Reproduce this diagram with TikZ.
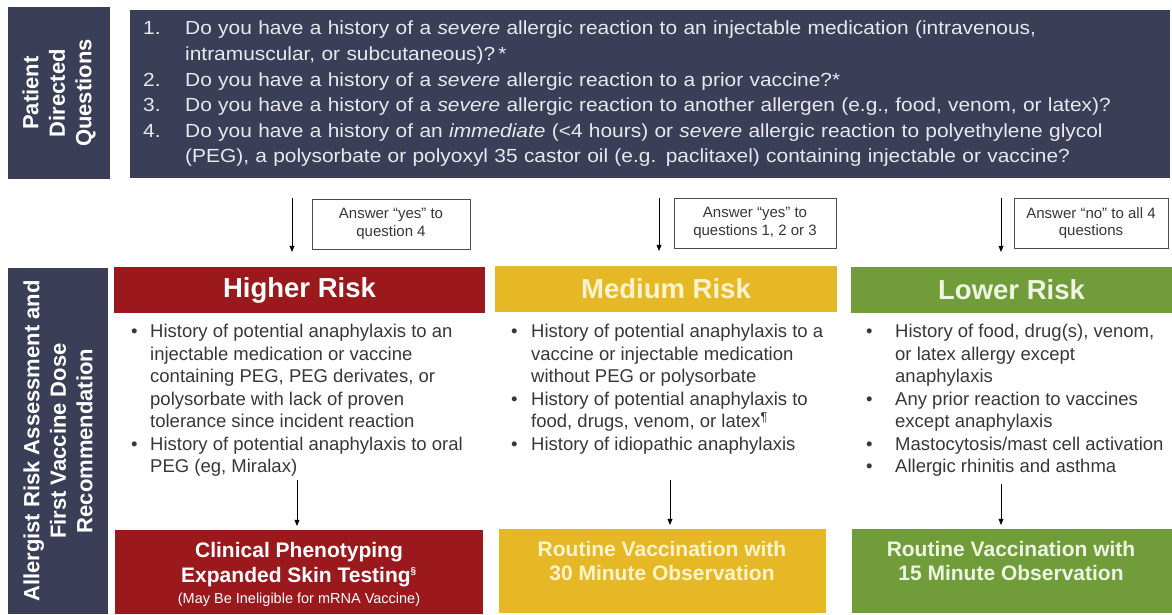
\documentclass[tikz,border=0pt]{standalone}
\usepackage{fontspec}
\setmainfont{Liberation Sans}
\newfontfamily\widefont[FakeStretch=1.1]{Liberation Sans}
\usetikzlibrary{positioning,arrows.meta}
\definecolor{navy}{RGB}{58,62,86}
\definecolor{qtext}{RGB}{232,232,238}
\definecolor{riskred}{RGB}{155,24,28}
\definecolor{riskyellow}{RGB}{231,184,38}
\definecolor{riskgreen}{RGB}{112,156,58}
\definecolor{paleyellow}{RGB}{253,244,205}
\definecolor{palegreen}{RGB}{238,245,226}
\definecolor{bodygray}{RGB}{55,55,55}
\newcommand{\bul}[1][19pt]{\makebox[#1][l]{\textbullet}}
\newcommand{\num}[1]{\makebox[42pt][l]{#1}}

\begin{document}
\begin{tikzpicture}[x=1pt,y=-1pt,
    side/.style={fill=navy, text=white, rotate=90, align=center, inner sep=0pt, font=\fontsize{22}{26.5}\selectfont\bfseries},
    qbox/.style={fill=navy, text=qtext, anchor=west, minimum height=168pt, inner xsep=13pt, text width=1014pt, align=left, font=\widefont\fontsize{19}{25.6}\selectfont},
    ans/.style={draw=black!70, fill=white, text=bodygray, align=center, inner sep=2pt, minimum height=50pt, font=\fontsize{15}{17.5}\selectfont},
    head/.style={minimum height=46pt, inner sep=0pt, font=\fontsize{27.5}{30}\selectfont\bfseries},
    blist/.style={anchor=north west, inner sep=0pt, align=left, text=bodygray, font=\fontsize{18.5}{22.5}\selectfont},
    res/.style={minimum height=84pt, inner sep=0pt},
    restext/.style={align=center, inner sep=0pt, font=\fontsize{21}{24}\selectfont\bfseries},
    arr/.style={-{Triangle[length=6pt,width=5pt]}, thin, black}]
  \useasboundingbox (0,0) rectangle (1172,614);

  \node[side, minimum width=172pt, minimum height=102pt] (pdq) at (59,93) {Patient\\Directed\\Questions};
  \node[side, minimum width=346pt, minimum height=100pt] (ara) at (58,441) {Allergist Risk Assessment and\\First Vaccine Dose\\Recommendation};

  \node[qbox] (qs) at (130,94) {\num{1.}Do you have a history of a \emph{severe} allergic reaction to an injectable medication (intravenous,\\
    \hspace*{42pt}intramuscular, or subcutaneous)?\,*\\
    \num{2.}Do you have a history of a \emph{severe} allergic reaction to a prior vaccine?*\\
    \num{3.}Do you have a history of a \emph{severe} allergic reaction to another allergen (e.g., food, venom, or latex)?\\
    \num{4.}Do you have a history of an \emph{immediate} (<4 hours) or \emph{severe} allergic reaction to polyethylene glycol\\
    \hspace*{42pt}(PEG), a polysorbate or polyoxyl 35 castor oil (e.g. paclitaxel) containing injectable or vaccine?};

  \node[ans, minimum width=158pt] (a1) at (391,224) {Answer “yes” to\\question 4};
  \node[ans, minimum width=162pt] (a2) at (755,223) {Answer “yes” to\\questions 1, 2 or 3};
  \node[ans, minimum width=154pt] (a3) at (1091,223) {Answer “no” to all 4\\questions};

  \node[head, fill=riskred, text=white, minimum width=371pt] (h1) at (299.5,290) {Higher Risk};
  \node[head, fill=riskyellow, text=paleyellow, minimum width=342pt] (h2) at (666,289) {Medium Risk};
  \node[head, fill=riskgreen, text=palegreen, minimum width=321pt] (h3) at (1011.5,290) {Lower Risk};

  \coordinate (t1) at (292,198);
  \coordinate (t2) at (659,198);
  \coordinate (t3) at (1001,198);
  \draw[arr, shorten >=15pt] (t1) -- (t1 |- h1.north);
  \draw[arr, shorten >=15pt] (t2) -- (t2 |- h2.north);
  \draw[arr, shorten >=15pt] (t3) -- (t3 |- h3.north);

  \node[blist] (b1) at (131,324) {\bul History of potential anaphylaxis to an\\
    \hspace*{19pt}injectable medication or vaccine\\
    \hspace*{19pt}containing PEG, PEG derivates, or\\
    \hspace*{19pt}polysorbate with lack of proven\\
    \hspace*{19pt}tolerance since incident reaction\\
    \bul History of potential anaphylaxis to oral\\
    \hspace*{19pt}PEG (eg, Miralax)};
  \node[blist] (b2) at (511,324) {\bul[20pt]History of potential anaphylaxis to a\\
    \hspace*{20pt}vaccine or injectable medication\\
    \hspace*{20pt}without PEG or polysorbate\\
    \bul[20pt]History of potential anaphylaxis to\\
    \hspace*{20pt}food, drugs, venom, or latex\textsuperscript{¶}\\
    \bul[20pt]History of idiopathic anaphylaxis};
  \node[blist] (b3) at (866,324) {\bul[29pt]History of food, drug(s), venom,\\
    \hspace*{29pt}or latex allergy except\\
    \hspace*{29pt}anaphylaxis\\
    \bul[29pt]Any prior reaction to vaccines\\
    \hspace*{29pt}except anaphylaxis\\
    \bul[29pt]Mastocytosis/mast cell activation\\
    \bul[29pt]Allergic rhinitis and asthma};

  \node[res, fill=riskred, minimum width=368pt] (r1) at (299,572) {};
  \node[res, fill=riskyellow, minimum width=327pt] (r2) at (662.5,571) {};
  \node[res, fill=riskgreen, minimum width=320pt] (r3) at (1012,571) {};
  \node[restext, text=white] (r1t) at (299,574) {Clinical Phenotyping\\[1pt]
    Expanded Skin Testing\textsuperscript{\fontsize{10}{10}\selectfont§}\\[-3pt]
    {\fontsize{14.5}{16}\selectfont\mdseries (May Be Ineligible for mRNA Vaccine)}};
  \node[restext, text=paleyellow] (r2t) at (662,561) {Routine Vaccination with\\30 Minute Observation};
  \node[restext, text=palegreen] (r3t) at (1011,561) {Routine Vaccination with\\15 Minute Observation};

  \coordinate (m1) at (297,480);
  \coordinate (m2) at (670,480);
  \coordinate (m3) at (1001,484);
  \draw[arr, shorten >=4pt] (m1) -- (m1 |- r1.north);
  \draw[arr, shorten >=4pt] (m2) -- (m2 |- r2.north);
  \draw[arr, shorten >=4pt] (m3) -- (m3 |- r3.north);
\end{tikzpicture}
\end{document}
